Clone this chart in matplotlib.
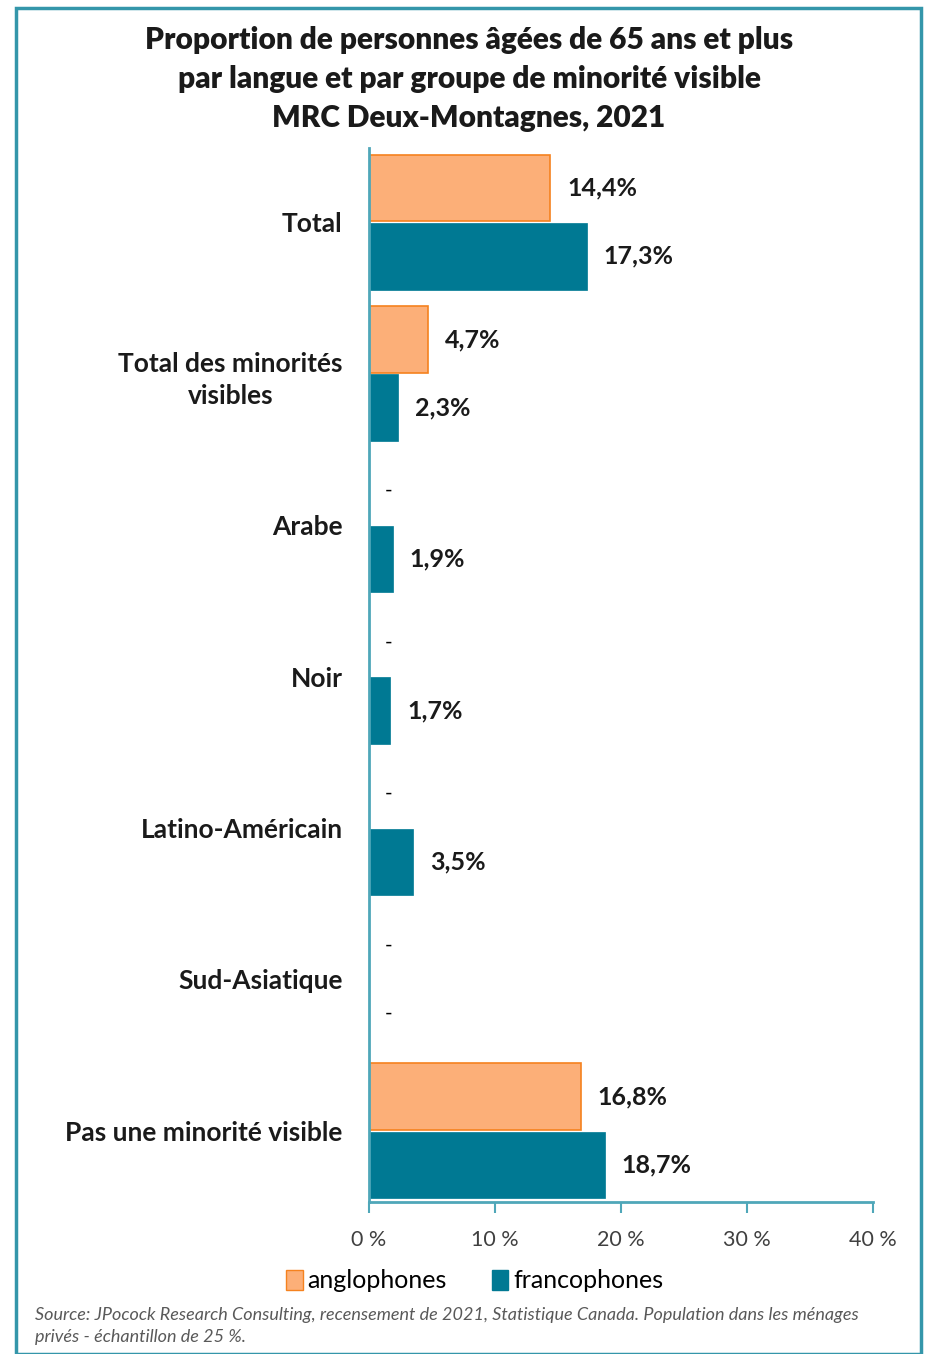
import matplotlib.pyplot as plt
from matplotlib.patches import Rectangle, Patch
import numpy as np

plt.rcParams['font.family'] = ['Lato', 'DejaVu Sans']

# Données
categories = ['Total', 'Total des minorités\nvisibles', 'Arabe', 'Noir',
              'Latino-Américain', 'Sud-Asiatique', 'Pas une minorité visible']
anglophones = [14.4, 4.7, None, None, None, None, 16.8]
francophones = [17.3, 2.3, 1.9, 1.7, 3.5, None, 18.7]
xticks = [0, 10, 20, 30, 40]
xtick_labels = ['0 %', '10 %', '20 %', '30 %', '40 %']

orange_fill = '#FCAF78'
orange_edge = '#F5821F'
teal = '#007993'
spine_col = '#4FA7B9'

fig = plt.figure(figsize=(9.26, 13.54), dpi=100)
ax = fig.add_axes([369 / 926, 1 - 1202 / 1354, 504 / 926, (1202 - 148) / 1354])

pos = np.arange(len(categories))
h = 0.44
off = 0.225


def valeurs(liste):
    return [v if v is not None else 0 for v in liste]


ax.barh(pos - off, valeurs(anglophones), height=h, color=orange_fill,
        edgecolor=orange_edge, linewidth=1.2)
ax.barh(pos + off, valeurs(francophones), height=h, color=teal,
        edgecolor=teal, linewidth=0.5)

for serie, dy in [(anglophones, -off), (francophones, off)]:
    for i, v in enumerate(serie):
        if v is None:
            ax.annotate('-', (0, i + dy), xytext=(11, 0), textcoords='offset points',
                        ha='left', va='center', fontsize=15, color='black')
        else:
            txt = f'{v:.1f}%'.replace('.', ',')
            ax.annotate(txt, (v, i + dy), xytext=(12, 0), textcoords='offset points',
                        ha='left', va='center', fontsize=18, fontweight='bold',
                        color='#1a1a1a')

ax.set_xlim(0, 40)
ax.set_ylim(6.47, -0.49)
ax.set_yticks(pos)
ax.set_yticklabels(categories, fontsize=19, fontweight='bold', color='#1a1a1a',
                   multialignment='center', linespacing=1.4)
ax.set_xticks(xticks)
ax.set_xticklabels(xtick_labels, fontsize=15.5, color='#404040')
ax.tick_params(axis='y', length=0, pad=19)
ax.tick_params(axis='x', direction='out', length=8, width=1.5, color=spine_col, pad=12)

for s in ['top', 'right']:
    ax.spines[s].set_visible(False)
for s in ['left', 'bottom']:
    ax.spines[s].set_color(spine_col)
    ax.spines[s].set_linewidth(2)

# Titre
fig.text(469 / 926, 1 - 79 / 1354,
         'Proportion de personnes âgées de 65 ans et plus\n'
         'par langue et par groupe de minorité visible\n'
         'MRC Deux-Montagnes, 2021',
         ha='center', va='center', fontsize=21.5, fontweight='heavy',
         color='#1a1a1a', linespacing=1.5)

# Légende
handles = [Patch(facecolor=orange_fill, edgecolor=orange_edge, label='anglophones'),
           Patch(facecolor=teal, edgecolor=teal, label='francophones')]
fig.legend(handles=handles, loc='center', bbox_to_anchor=(475 / 926, 1 - 1281 / 1354),
           ncol=2, frameon=False, fontsize=18, handlelength=0.65, handleheight=0.9,
           handletextpad=0.2, columnspacing=1.8)

# Source
fig.text(35 / 926, 1 - 1326 / 1354,
         'Source: JPocock Research Consulting, recensement de 2021, Statistique Canada. '
         'Population dans les ménages\nprivés - échantillon de 25 %.',
         ha='left', va='center', fontsize=13, style='italic', color='#595959',
         linespacing=1.45)

# Cadre
fig.patches.append(Rectangle((16 / 926, 0), (921 - 16) / 926, 1 - 8 / 1354,
                             transform=fig.transFigure, fill=False,
                             edgecolor='#3496AA', linewidth=2.5))

fig.savefig('out.png', dpi=100)
